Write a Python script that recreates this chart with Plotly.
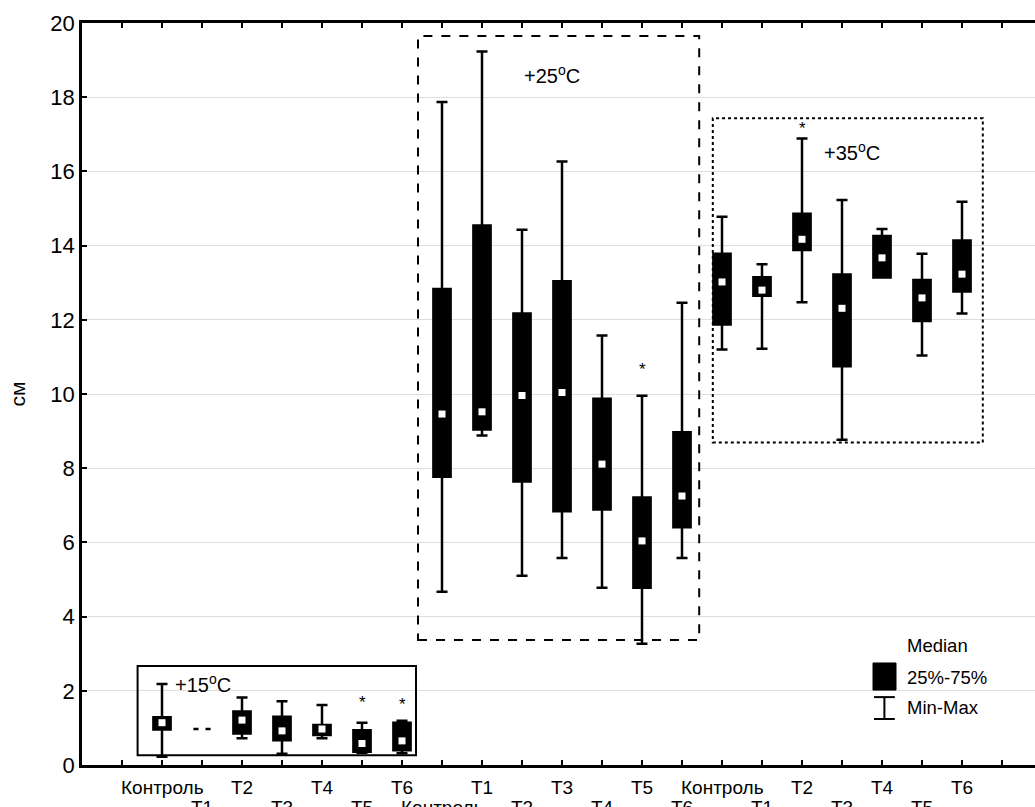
import plotly.graph_objects as go

# ---- data ----
groups = ["+15", "+25", "+35"]
treatments = ["Контроль", "T1", "T2", "T3", "T4", "T5", "T6"]
categories = [t for g in groups for t in treatments]

minimum = [0.22, 0.97, 0.72, 0.30, 0.72, 0.33, 0.32,
           4.67, 8.88, 5.10, 5.58, 4.78, 3.27, 5.58,
           11.20, 11.22, 12.47, 8.77, 13.14, 11.04, 12.17]
q25 = [0.96, 0.97, 0.85, 0.67, 0.81, 0.36, 0.40,
       7.77, 9.04, 7.64, 6.84, 6.89, 4.78, 6.41,
       11.87, 12.65, 13.88, 10.75, 13.14, 11.97, 12.76]
median = [1.14, 0.97, 1.21, 0.92, 0.97, 0.58, 0.65,
          9.46, 9.52, 9.96, 10.04, 8.11, 6.04, 7.25,
          13.02, 12.80, 14.17, 12.31, 13.67, 12.59, 13.23]
q75 = [1.29, 0.97, 1.44, 1.30, 1.08, 0.94, 1.14,
       12.83, 14.54, 12.17, 13.04, 9.87, 7.21, 8.97,
       13.78, 13.15, 14.86, 13.22, 14.26, 13.07, 14.14]
maximum = [2.18, 0.97, 1.82, 1.72, 1.62, 1.14, 1.19,
           17.87, 19.23, 14.43, 16.27, 11.58, 9.95, 12.46,
           14.78, 13.50, 16.89, 15.23, 14.45, 13.78, 15.18]

# significance marks: (category index, y value)
star_idx = [5, 6, 12, 16]
star_y = [1.80, 1.75, 10.78, 17.27]

# temperature frames
frame_x0 = [-0.61, 6.40, 13.77]
frame_x1 = [6.35, 13.43, 20.52]
frame_y0 = [0.26, 3.37, 8.69]
frame_y1 = [2.67, 19.65, 17.43]
frame_dash = ["solid", "dash", "dot"]
frame_label = ["+15<sup>o</sup>C", "+25<sup>o</sup>C", "+35<sup>o</sup>C"]
label_x = [0.28, 8.99, 16.49]
label_y = [2.20, 18.60, 16.53]

FONT = "Liberation Sans, Arial, sans-serif"
pos = list(range(len(categories)))

fig = go.Figure()
fig.add_trace(go.Box(
    x=pos, q1=q25, median=median, q3=q75,
    lowerfence=minimum, upperfence=maximum,
    width=0.43, whiskerwidth=0.64,
    fillcolor="black", line=dict(color="black", width=2.5),
    boxpoints=False, showlegend=False, hoverinfo="skip",
))
fig.add_trace(go.Scatter(
    x=pos, y=median, mode="markers",
    marker=dict(symbol="square", size=7, color="white", line=dict(width=0)),
    showlegend=False, hoverinfo="skip",
))

shapes = []
annotations = []
for i in range(3):
    shapes.append(dict(type="rect", xref="x", yref="y",
                       x0=frame_x0[i], x1=frame_x1[i], y0=frame_y0[i], y1=frame_y1[i],
                       line=dict(color="black", width=2, dash=frame_dash[i]),
                       fillcolor="rgba(0,0,0,0)", layer="above"))
    annotations.append(dict(x=label_x[i], y=label_y[i], xref="x", yref="y",
                            text=frame_label[i], showarrow=False, xanchor="left",
                            yanchor="middle", font=dict(size=20, color="black", family=FONT)))

for xi, yi in zip(star_idx, star_y):
    annotations.append(dict(x=xi, y=yi, xref="x", yref="y", text="*", showarrow=False,
                            yanchor="middle", yshift=-4,
                            font=dict(size=17, color="black", family=FONT)))

# category labels in two staggered rows
for i, c in enumerate(categories):
    annotations.append(dict(x=i, y=0, xref="x", yref="paper", text=c, showarrow=False,
                            yanchor="top", yshift=-10 if i % 2 == 0 else -30,
                            font=dict(size=19, color="black", family=FONT)))

# legend
shapes.append(dict(type="rect", xref="x", yref="y", x0=17.775, x1=18.35, y0=2.02, y1=2.75,
                   line=dict(color="black", width=1), fillcolor="black"))
shapes.append(dict(type="line", xref="x", yref="y", x0=18.06, x1=18.06, y0=1.24, y1=1.83,
                   line=dict(color="black", width=2)))
shapes.append(dict(type="line", xref="x", yref="y", x0=17.8, x1=18.32, y0=1.83, y1=1.83,
                   line=dict(color="black", width=2)))
shapes.append(dict(type="line", xref="x", yref="y", x0=17.8, x1=18.32, y0=1.24, y1=1.24,
                   line=dict(color="black", width=2)))
for txt, yy in [("Median", 3.23), ("25%-75%", 2.37), ("Min-Max", 1.54)]:
    annotations.append(dict(x=18.575, y=yy, xref="x", yref="y", text=txt, showarrow=False,
                            xanchor="left", yanchor="middle",
                            font=dict(size=18.5, color="black", family=FONT)))

fig.update_layout(
    width=1035, height=807,
    margin=dict(l=82, r=0, t=23, b=42),
    paper_bgcolor="white", plot_bgcolor="white",
    font=dict(family=FONT, color="black"),
    shapes=shapes, annotations=annotations,
    xaxis=dict(range=[-2, 21.825], tickmode="array", tickvals=list(range(-1, 22)),
               showticklabels=False, ticks="inside", ticklen=5, tickwidth=2,
               tickcolor="black", showgrid=False, zeroline=False,
               showline=True, linecolor="black", linewidth=2.5, mirror="ticks"),
    yaxis=dict(range=[0, 20], tickmode="array", tickvals=list(range(0, 21, 2)),
               ticks="inside", ticklen=5, tickwidth=2, tickcolor="black",
               tickfont=dict(size=22, color="black", family=FONT),
               showgrid=True, gridcolor="#dedede", gridwidth=1, zeroline=False,
               showline=True, linecolor="black", linewidth=2.5,
               title=dict(text="см", font=dict(size=21, color="black", family=FONT), standoff=20)),
)

fig.write_html("out.html")
